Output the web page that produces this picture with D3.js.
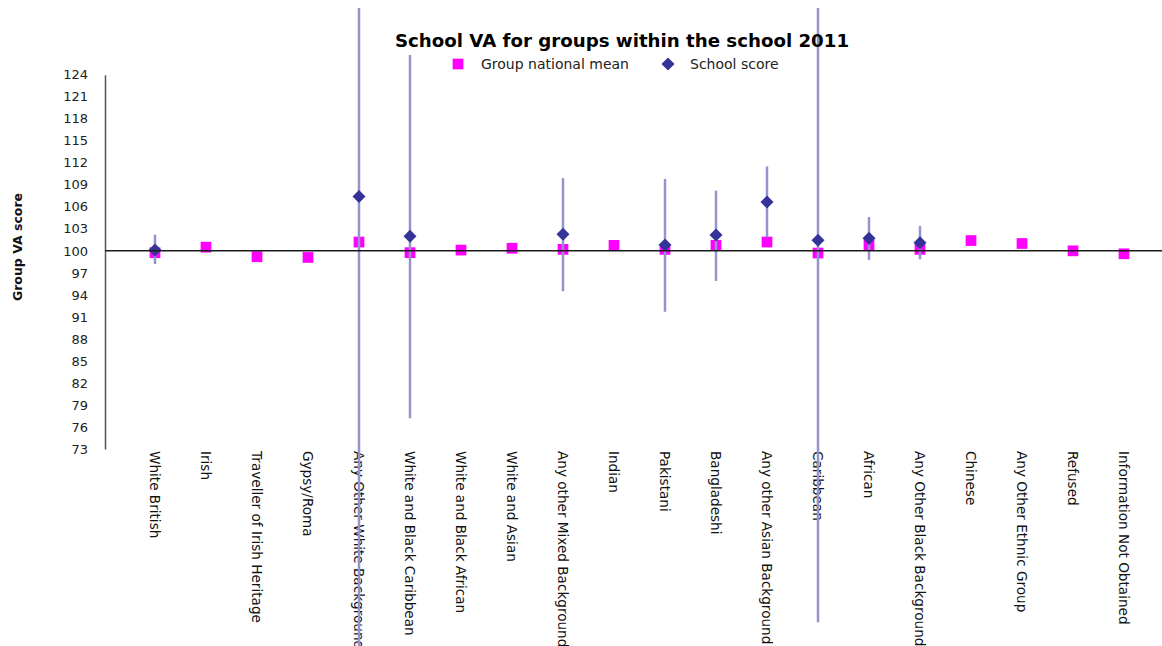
<!DOCTYPE html>
<html>
<head>
<meta charset="utf-8">
<script src="https://cdn.jsdelivr.net/npm/d3@7"></script>
<style>
 body { margin: 0; background: #fff; }
 text { font-family: "DejaVu Sans", Verdana, sans-serif; }
</style>
</head>
<body>
<div id="chart"></div>
<script>
const categories = [
 "White British", "Irish", "Traveller of Irish Heritage", "Gypsy/Roma",
 "Any Other White Background", "White and Black Caribbean", "White and Black African",
 "White and Asian", "Any other Mixed Background", "Indian", "Pakistani", "Bangladeshi",
 "Any other Asian Background", "Caribbean", "African", "Any Other Black Background",
 "Chinese", "Any Other Ethnic Group", "Refused", "Information Not Obtained"
];
const nationalMean = [99.75, 100.5, 99.2, 99.1, 101.2, 99.75, 100.1, 100.35, 100.2, 100.75,
 100.2, 100.75, 101.2, 99.7, 100.8, 100.2, 101.4, 101.0, 100.0, 99.6];
const schoolScore = [100.1, null, null, null, 107.4, 102.0, null, null, 102.25, null,
 100.8, 102.15, 106.65, 101.45, 101.7, 101.1, null, null, null, null];
const scoreLow = [98.2, null, null, null, 45, 77.2, null, null, 94.5, null,
 91.7, 95.9, 101.85, 49.4, 98.75, 98.85, null, null, null, null];
const scoreHigh = [102.2, null, null, null, 170, 126.7, null, null, 109.9, null,
 109.8, 108.2, 111.5, 153, 104.6, 103.4, null, null, null, null];
const yTicks = d3.range(73, 125, 3);

const width = 1162, height = 646;
const svg = d3.select("#chart").append("svg")
 .attr("width", width).attr("height", height);

const x = d3.scalePoint().domain(categories).range([155, 1124]);
const y = d3.scaleLinear().domain([73, 124]).range([449, 74.7]);

svg.append("defs").append("clipPath").attr("id", "clip")
 .append("rect").attr("x", 0).attr("y", 8).attr("width", width).attr("height", height - 8);

// y axis
const yAxis = svg.append("g")
 .attr("transform", "translate(105,0)")
 .call(d3.axisLeft(y).tickValues(yTicks).tickSize(0).tickPadding(17));
yAxis.select(".domain").attr("stroke", "#555").attr("stroke-width", 1.5);
yAxis.selectAll("text").attr("font-size", 13).attr("fill", "#222")
 .attr("font-family", "DejaVu Sans");

svg.append("text")
 .attr("transform", "translate(22,247) rotate(-90)")
 .attr("text-anchor", "middle")
 .attr("font-size", 12.5).attr("font-weight", "bold").attr("fill", "#111")
 .text("Group VA score");

// x labels
svg.append("g").selectAll("text").data(categories).join("text")
 .attr("transform", d => `translate(${x(d)},451) rotate(90)`)
 .attr("dy", "0.35em")
 .attr("font-size", 13.6).attr("fill", "#111")
 .text(d => d);

const rows = categories.map((c, i) => ({
 c, mean: nationalMean[i], score: schoolScore[i], lo: scoreLow[i], hi: scoreHigh[i]
}));
const scored = rows.filter(d => d.score != null);

// national mean squares
svg.append("g").selectAll("path").data(rows).join("path")
 .attr("d", d3.symbol(d3.symbolSquare, 115))
 .attr("transform", d => `translate(${x(d.c)},${y(d.mean)})`)
 .attr("fill", "#ff00ff");

// error bars
svg.append("g").attr("clip-path", "url(#clip)")
 .selectAll("line").data(scored).join("line")
 .attr("x1", d => x(d.c)).attr("x2", d => x(d.c))
 .attr("y1", d => y(d.lo)).attr("y2", d => y(d.hi))
 .attr("stroke", "#9393cf").attr("stroke-width", 2.5);

// school score diamonds
svg.append("g").selectAll("path").data(scored).join("path")
 .attr("d", d3.symbol(d3.symbolSquare, 85))
 .attr("transform", d => `translate(${x(d.c)},${y(d.score)}) rotate(45)`)
 .attr("fill", "#333399");

// baseline at 100
svg.append("line")
 .attr("x1", 105).attr("x2", width)
 .attr("y1", y(100)).attr("y2", y(100))
 .attr("stroke", "#1a1a1a").attr("stroke-width", 1.5);

// title
svg.append("text")
 .attr("x", 622).attr("y", 47)
 .attr("text-anchor", "middle")
 .attr("font-size", 18.2).attr("font-weight", "bold").attr("fill", "#000")
 .text("School VA for groups within the school 2011");

// legend
const legend = svg.append("g").attr("font-size", 14).attr("fill", "#222");
legend.append("path")
 .attr("d", d3.symbol(d3.symbolSquare, 115))
 .attr("transform", "translate(458,64)").attr("fill", "#ff00ff");
legend.append("text").attr("x", 481).attr("y", 64).attr("dy", "0.35em")
 .text("Group national mean");
legend.append("path")
 .attr("d", d3.symbol(d3.symbolSquare, 85))
 .attr("transform", "translate(668,64) rotate(45)").attr("fill", "#333399");
legend.append("text").attr("x", 690).attr("y", 64).attr("dy", "0.35em")
 .text("School score");
</script>
</body>
</html>
